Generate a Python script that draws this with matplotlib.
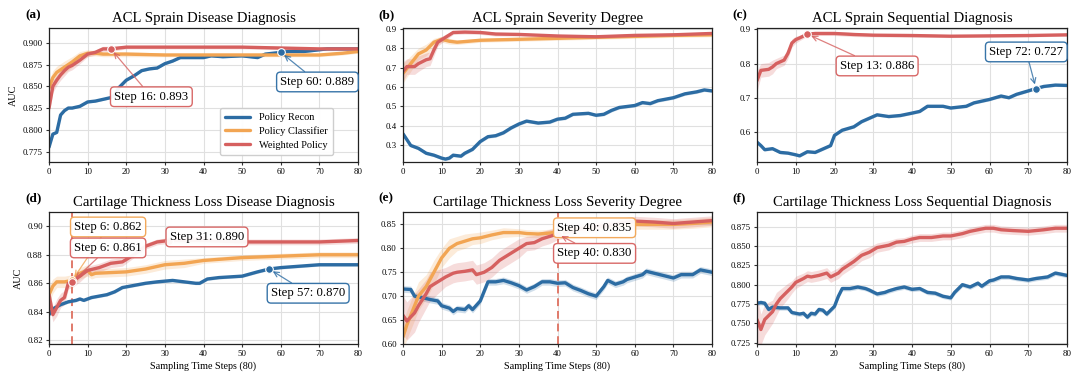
import numpy as np
import matplotlib
matplotlib.use("Agg")
import matplotlib.pyplot as plt

plt.rcParams['font.family'] = ['Liberation Serif', 'DejaVu Serif']
plt.rcParams['mathtext.fontset'] = 'stix'

# ---------------- data ----------------
series_names = ["Policy Recon", "Policy Classifier", "Weighted Policy"]
titles = ["ACL Sprain Disease Diagnosis", "ACL Sprain Severity Degree",
          "ACL Sprain Sequential Diagnosis", "Cartilage Thickness Loss Disease Diagnosis",
          "Cartilage Thickness Loss Severity Degree", "Cartilage Thickness Loss Sequential Diagnosis"]
panel_labels = ["(a)", "(b)", "(c)", "(d)", "(e)", "(f)"]

# (a)
a_recon_x = [0,1,2,3,4,5,6,8,10,12,14,16,17,18,20,22,24,26,28,30,32,34,36,40,42,45,50,54,56,60,62,66,70,72,76,80]
a_recon_y = [0.780,0.795,0.797,0.817,0.822,0.825,0.825,0.827,0.832,0.833,0.835,0.837,0.840,0.848,0.857,0.862,0.868,0.870,0.871,0.876,0.879,0.883,0.883,0.883,0.885,0.884,0.885,0.883,0.887,0.889,0.890,0.890,0.892,0.893,0.893,0.893]
a_recon_sd = 0.0012
a_clf_x = [0,1,2,4,6,8,10,12,14,20,30,40,50,60,70,76,80]
a_clf_y = [0.848,0.860,0.866,0.872,0.878,0.885,0.888,0.888,0.887,0.887,0.886,0.886,0.886,0.886,0.886,0.888,0.890]
a_clf_sd = [0.008,0.008,0.007,0.007,0.006,0.005,0.004,0.003,0.003,0.003,0.002,0.002,0.002,0.002,0.002,0.002,0.002]
a_wp_x = [0,1,2,3,4,5,6,8,10,12,14,16,20,30,40,50,60,70,80]
a_wp_y = [0.825,0.850,0.857,0.863,0.868,0.872,0.874,0.880,0.887,0.889,0.893,0.893,0.895,0.895,0.895,0.895,0.894,0.893,0.893]
a_wp_sd = [0.008,0.007,0.006,0.006,0.006,0.005,0.005,0.004,0.003,0.003,0.003,0.003,0.002,0.002,0.002,0.002,0.002,0.002,0.002]

# (b)
b_recon_x = [0,1,2,4,6,8,10,11,12,13,15,16,18,20,22,24,26,28,30,32,35,38,40,42,44,48,50,52,54,56,60,62,64,66,70,73,76,78,80]
b_recon_y = [0.36,0.33,0.30,0.285,0.26,0.25,0.235,0.23,0.235,0.25,0.245,0.26,0.28,0.32,0.345,0.35,0.365,0.39,0.41,0.425,0.415,0.42,0.435,0.44,0.46,0.465,0.455,0.46,0.48,0.495,0.505,0.52,0.515,0.53,0.545,0.565,0.575,0.585,0.58]
b_recon_sd = 0.008
b_clf_x = [0,2,4,6,8,10,12,14,20,30,40,50,60,70,80]
b_clf_y = [0.67,0.72,0.77,0.79,0.83,0.845,0.835,0.83,0.84,0.845,0.85,0.855,0.86,0.865,0.868]
b_clf_sd = [0.05,0.04,0.03,0.03,0.02,0.015,0.015,0.012,0.01,0.01,0.01,0.01,0.01,0.01,0.01]
b_wp_x = [0,1,3,4,6,7,8,9,11,13,16,20,24,30,40,50,60,70,80]
b_wp_y = [0.68,0.705,0.705,0.72,0.74,0.745,0.79,0.83,0.855,0.88,0.882,0.88,0.872,0.87,0.862,0.858,0.865,0.868,0.875]
b_wp_sd = [0.05,0.04,0.04,0.04,0.035,0.035,0.03,0.02,0.015,0.01,0.01,0.01,0.01,0.008,0.008,0.008,0.008,0.008,0.008]

# (c)
c_recon_x = [0,1,2,4,6,8,10,11,13,15,17,19,20,22,25,27,29,31,34,37,40,42,44,48,50,54,56,60,63,65,67,70,72,74,77,80]
c_recon_y = [0.57,0.56,0.548,0.551,0.54,0.538,0.533,0.53,0.542,0.54,0.55,0.56,0.59,0.605,0.615,0.63,0.64,0.65,0.645,0.648,0.655,0.66,0.675,0.675,0.67,0.675,0.685,0.695,0.705,0.70,0.71,0.72,0.727,0.733,0.737,0.736]
c_recon_sd = 0.004
c_wp_x = [0,1,3,4,5,7,8,9,10,11,13,15,20,25,30,40,50,60,70,80]
c_wp_y = [0.75,0.78,0.783,0.79,0.80,0.81,0.83,0.86,0.87,0.875,0.886,0.888,0.888,0.885,0.883,0.882,0.88,0.881,0.882,0.884]
c_wp_sd = [0.03,0.02,0.02,0.02,0.015,0.015,0.015,0.012,0.01,0.008,0.006,0.006,0.006,0.006,0.005,0.005,0.004,0.004,0.004,0.004]

# (d)
d_recon_x = [0,1,3,5,7,8,9,11,13,15,17,19,21,25,28,32,35,38,39,41,44,50,54,57,60,65,70,80]
d_recon_y = [0.838,0.842,0.845,0.847,0.848,0.849,0.848,0.850,0.851,0.852,0.854,0.857,0.858,0.860,0.861,0.862,0.861,0.860,0.860,0.863,0.864,0.865,0.868,0.870,0.871,0.872,0.873,0.873]
d_recon_sd = 0.001
d_clf_x = [0,1,2,4,6,8,10,11,12,20,25,30,35,40,45,50,60,70,80]
d_clf_y = [0.852,0.858,0.861,0.861,0.862,0.867,0.869,0.866,0.867,0.868,0.870,0.873,0.874,0.876,0.877,0.878,0.879,0.880,0.880]
d_clf_sd = [0.006,0.005,0.004,0.004,0.004,0.004,0.004,0.003,0.003,0.003,0.003,0.003,0.003,0.002,0.002,0.002,0.002,0.002,0.002]
d_wp_x = [0,1,2,3,4,5,6,8,10,13,16,19,22,25,28,31,40,50,60,70,80]
d_wp_y = [0.852,0.838,0.843,0.848,0.850,0.860,0.861,0.865,0.869,0.871,0.874,0.875,0.880,0.886,0.889,0.890,0.890,0.889,0.889,0.889,0.890]
d_wp_sd = [0.006,0.005,0.006,0.005,0.005,0.004,0.004,0.004,0.003,0.003,0.003,0.003,0.002,0.002,0.002,0.002,0.002,0.002,0.002,0.002,0.002]

# (e)
e_recon_x = [0,2,3,5,7,9,10,12,13,14,16,17,18,20,22,24,26,28,30,32,34,36,38,40,42,44,46,48,50,52,53,55,57,58,60,62,63,65,68,70,72,75,77,80]
e_recon_y = [0.715,0.714,0.700,0.697,0.693,0.690,0.680,0.675,0.668,0.674,0.672,0.680,0.672,0.690,0.730,0.730,0.733,0.728,0.722,0.713,0.720,0.730,0.730,0.727,0.728,0.718,0.712,0.705,0.700,0.720,0.733,0.725,0.730,0.735,0.740,0.745,0.752,0.748,0.742,0.738,0.745,0.745,0.755,0.750]
e_recon_sd = 0.007
e_clf_x = [0,1,3,4,6,8,10,12,14,16,18,20,23,26,30,32,35,38,40,45,50,55,60,70,75,80]
e_clf_y = [0.615,0.640,0.680,0.700,0.720,0.750,0.780,0.800,0.810,0.815,0.820,0.822,0.828,0.833,0.833,0.831,0.830,0.832,0.835,0.840,0.845,0.848,0.850,0.850,0.852,0.855]
e_clf_sd = [0.03,0.03,0.03,0.03,0.025,0.025,0.02,0.02,0.015,0.015,0.012,0.012,0.01,0.01,0.008,0.008,0.008,0.008,0.008,0.008,0.008,0.01,0.01,0.01,0.01,0.01]
e_wp_x = [0,1,3,4,6,7,9,11,13,14,16,18,19,21,23,25,28,30,32,34,36,38,40,43,46,50,54,58,60,65,70,75,80]
e_wp_y = [0.660,0.648,0.665,0.680,0.705,0.720,0.730,0.740,0.748,0.750,0.752,0.755,0.745,0.750,0.760,0.775,0.790,0.800,0.810,0.812,0.820,0.825,0.830,0.835,0.840,0.845,0.850,0.855,0.857,0.855,0.852,0.855,0.858]
e_wp_sd = [0.04,0.04,0.04,0.035,0.03,0.03,0.025,0.02,0.02,0.02,0.02,0.02,0.02,0.02,0.02,0.02,0.02,0.02,0.015,0.015,0.015,0.015,0.012,0.012,0.01,0.01,0.01,0.01,0.01,0.01,0.01,0.01,0.01]

# (f)
f_recon_x = [0,1,2,3,4,6,8,9,11,12,13,14,15,16,17,18,20,21,22,24,26,28,29,31,33,34,36,38,40,42,44,46,48,50,51,53,55,57,58,60,61,63,65,67,70,72,75,77,80]
f_recon_y = [0.776,0.777,0.776,0.768,0.771,0.770,0.770,0.764,0.762,0.763,0.758,0.763,0.762,0.768,0.767,0.762,0.772,0.785,0.795,0.795,0.797,0.795,0.793,0.788,0.790,0.792,0.795,0.797,0.794,0.795,0.790,0.789,0.785,0.783,0.790,0.800,0.797,0.802,0.798,0.805,0.806,0.810,0.810,0.808,0.806,0.808,0.810,0.815,0.812]
f_recon_sd = 0.003
f_wp_x = [0,1,2,4,5,6,8,9,10,12,13,14,16,18,19,21,22,25,27,29,31,34,36,38,40,42,45,48,50,53,55,57,59,61,63,66,70,74,77,80]
f_wp_y = [0.755,0.742,0.755,0.765,0.775,0.782,0.792,0.797,0.803,0.808,0.811,0.810,0.812,0.815,0.810,0.815,0.820,0.830,0.838,0.842,0.848,0.851,0.855,0.856,0.859,0.861,0.861,0.863,0.863,0.866,0.869,0.871,0.873,0.873,0.871,0.870,0.869,0.871,0.873,0.873]
f_wp_sd = [0.03,0.02,0.02,0.015,0.015,0.012,0.01,0.008,0.008,0.007,0.007,0.007,0.007,0.007,0.007,0.007,0.007,0.007,0.007,0.007,0.006,0.006,0.005,0.005,0.005,0.005,0.005,0.005,0.005,0.005,0.005,0.005,0.005,0.005,0.005,0.005,0.005,0.005,0.005,0.005]

# annotations: (step, value, text_x, text_y, series index)
a_notes = [(16, 0.893, 26.5, 0.838, 2), (60, 0.889, 69.5, 0.855, 0)]
c_notes = [(13, 0.886, 31, 0.793, 2), (72, 0.727, 69.5, 0.834, 0)]
d_notes = [(6, 0.862, 15.3, 0.8995, 1), (6, 0.861, 15.3, 0.8848, 2), (31, 0.890, 40.9, 0.8925, 2), (57, 0.870, 67.1, 0.853, 0)]
e_notes = [(40, 0.835, 49.6, 0.843, 1), (40, 0.830, 49.6, 0.7895, 2)]

# ---------------- style ----------------
colors = ["#2c6ca3", "#f2a553", "#d6605f"]
panels = [
    [(a_recon_x, a_recon_y, a_recon_sd, 0), (a_clf_x, a_clf_y, a_clf_sd, 1), (a_wp_x, a_wp_y, a_wp_sd, 2)],
    [(b_recon_x, b_recon_y, b_recon_sd, 0), (b_clf_x, b_clf_y, b_clf_sd, 1), (b_wp_x, b_wp_y, b_wp_sd, 2)],
    [(c_recon_x, c_recon_y, c_recon_sd, 0), (c_wp_x, c_wp_y, c_wp_sd, 2)],
    [(d_recon_x, d_recon_y, d_recon_sd, 0), (d_clf_x, d_clf_y, d_clf_sd, 1), (d_wp_x, d_wp_y, d_wp_sd, 2)],
    [(e_recon_x, e_recon_y, e_recon_sd, 0), (e_clf_x, e_clf_y, e_clf_sd, 1), (e_wp_x, e_wp_y, e_wp_sd, 2)],
    [(f_recon_x, f_recon_y, f_recon_sd, 0), (f_wp_x, f_wp_y, f_wp_sd, 2)],
]
notes = [a_notes, None, c_notes, d_notes, e_notes, None]
vlines = [None, None, None, 6, 40, None]
ylims = [(0.763, 0.917), (0.215, 0.903), (0.512, 0.904), (0.8174, 0.910), (0.60, 0.876), (0.7233, 0.894)]
yticks = [[0.775, 0.800, 0.825, 0.850, 0.875, 0.900],
          [0.3, 0.4, 0.5, 0.6, 0.7, 0.8, 0.9],
          [0.6, 0.7, 0.8, 0.9],
          [0.82, 0.84, 0.86, 0.88, 0.90],
          [0.60, 0.65, 0.70, 0.75, 0.80, 0.85],
          [0.725, 0.750, 0.775, 0.800, 0.825, 0.850, 0.875]]
yfmt = ["%.3f", "%.1f", "%.1f", "%.2f", "%.2f", "%.3f"]

fig = plt.figure(figsize=(10.79, 3.83), dpi=100)
W, H = 1079, 383
col_px = [(49, 358), (403, 712), (757, 1067)]
row_px = [(28, 162), (212, 344)]
label_px = [(25, 15), (378, 15), (732, 15), (25, 198), (378, 198), (732, 198)]

for i in range(6):
    r, c = divmod(i, 3)
    x0, x1 = col_px[c]
    t0, t1 = row_px[r]
    ax = fig.add_axes([x0 / W, 1 - t1 / H, (x1 - x0) / W, (t1 - t0) / H])
    ax.grid(True, color="#e0e0e0", lw=0.8)
    ax.set_axisbelow(True)
    for (xs, ys, sd, k) in panels[i]:
        xs = np.asarray(xs, float)
        ys = np.asarray(ys, float)
        sdv = np.broadcast_to(np.asarray(sd, float), ys.shape)
        ax.fill_between(xs, ys - sdv, ys + sdv, color=colors[k], alpha=0.22, lw=0)
        ax.plot(xs, ys, color=colors[k], lw=2.4, label=series_names[k], solid_capstyle='round')
    if vlines[i] is not None:
        ax.axvline(vlines[i], color="#e07a6a", ls=(0, (4, 2.5)), lw=1.4, zorder=1.5)
    if notes[i]:
        for (sx, sy, tx, ty, k) in notes[i]:
            ax.plot([sx], [sy], 'o', color=colors[k], ms=5.5, mec='white', mew=0.8, zorder=5)
            ax.annotate(f"Step {sx}: {sy:.3f}", xy=(sx, sy), xytext=(tx, ty),
                        ha='center', va='center', fontsize=9.2, zorder=6,
                        bbox=dict(boxstyle="round,pad=0.3", fc="white", ec=colors[k], lw=1.0, alpha=0.95),
                        arrowprops=dict(arrowstyle="->", color=colors[k], lw=0.9, alpha=0.8,
                                        shrinkA=0, shrinkB=3))
    ax.set_xlim(0, 80)
    ax.set_xticks(range(0, 81, 10))
    ax.set_ylim(*ylims[i])
    ax.set_yticks(yticks[i])
    ax.set_yticklabels([yfmt[i] % v for v in yticks[i]])
    ax.tick_params(labelsize=6.3, length=2.5, width=0.8, pad=2, color="#333333")
    for s in ax.spines.values():
        s.set_linewidth(0.9)
        s.set_color("#222222")
    ax.set_title(titles[i], fontsize=10.6, pad=4)
    if c == 0:
        ax.set_ylabel("AUC", fontsize=7.3, labelpad=3)
    if r == 1:
        ax.set_xlabel("Sampling Time Steps (80)", fontsize=7.3, labelpad=2)
    if i == 0:
        ax.legend(loc='lower right', bbox_to_anchor=(0.935, 0.015), fontsize=7.5,
                  frameon=True, framealpha=0.95, edgecolor="#cccccc", handlelength=2.4,
                  borderpad=0.5, labelspacing=0.4, fancybox=True)
    lx, ly = label_px[i]
    fig.text(lx / W, 1 - ly / H, panel_labels[i], fontsize=9.5, fontweight='bold', va='center', ha='left')

fig.savefig("out.png", dpi=100)
